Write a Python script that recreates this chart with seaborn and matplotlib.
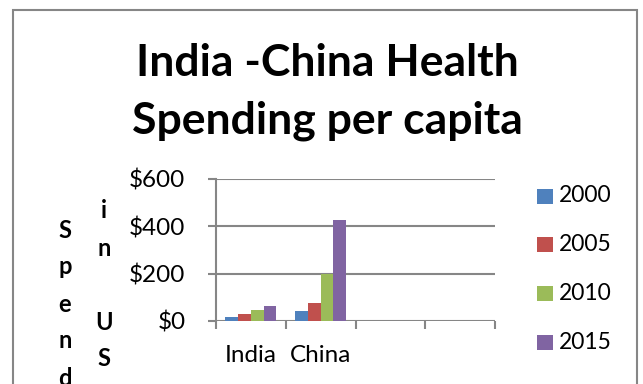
import matplotlib
matplotlib.use("Agg")
import matplotlib.pyplot as plt
import seaborn as sns
import pandas as pd
from matplotlib.patches import Rectangle

countries = ["India", "China"]
years = ["2000", "2005", "2010", "2015"]
india_values = [18, 28, 45, 63]
china_values = [42, 75, 200, 425]
y_ticks = [0, 200, 400, 600]
y_tick_labels = ["$0", "$200", "$400", "$600"]
colors = ["#4F81BD", "#C0504D", "#9BBB59", "#8064A2"]

rows = []
for y, v in zip(years, india_values):
    rows.append({"country": "India", "year": y, "value": v})
for y, v in zip(years, china_values):
    rows.append({"country": "China", "year": y, "value": v})
df = pd.DataFrame(rows)

sns.set_theme(style="white")
plt.rcParams["font.family"] = ["Lato", "DejaVu Sans"]

W, H = 643, 384
fig = plt.figure(figsize=(W / 100, H / 100), dpi=100)
ax = fig.add_axes([216 / W, 1 - 321 / H, (495 - 216) / W, (321 - 179) / H])

sns.barplot(data=df, x="country", y="value", hue="year", order=countries,
            hue_order=years, palette=colors, width=0.73, ax=ax,
            edgecolor="none", saturation=1)

ax.set_xlim(-0.5, 3.5)
ax.set_ylim(0, 600)
grid_c = "#868686"
ax.set_yticks(y_ticks)
ax.set_yticklabels(y_tick_labels)
for yv in y_ticks:
    ax.axhline(yv, color=grid_c, lw=1.5, zorder=0.5)
ax.set_xticks([0, 1])
ax.set_xticklabels(countries)
ax.set_xticks([-0.5, 0.5, 1.5, 2.5, 3.5], minor=True)
ax.tick_params(axis="x", which="major", length=0, pad=17, labelsize=17.5, colors="black")
ax.tick_params(axis="x", which="minor", length=6, width=1.5, color=grid_c, direction="out", bottom=True)
ax.tick_params(axis="y", length=6, width=1.5, color=grid_c, direction="out", left=True,
               pad=16, labelsize=17.5, labelcolor="black")
for s in ["top", "right", "bottom"]:
    ax.spines[s].set_visible(False)
ax.spines["left"].set_color(grid_c)
ax.spines["left"].set_linewidth(1.5)
ax.set_xlabel("")
ax.set_ylabel("")
ax.legend_.remove()

# legend
for i, (yr, c) in enumerate(zip(years, colors)):
    yc = 196 + i * 48.7
    fig.patches.append(Rectangle((537 / W, 1 - (yc + 7.5) / H), 16 / W, 15 / H,
                                 transform=fig.transFigure, facecolor=c, edgecolor="none"))
    fig.text(559 / W, 1 - yc / H, yr, ha="left", va="center", fontsize=16.5, color="black")

# title
fig.text(327 / W, 1 - 63 / H, "India -China Health", ha="center", va="center",
         fontsize=32, fontweight="bold", color="black")
fig.text(327 / W, 1 - 121 / H, "Spending per capita", ha="center", va="center",
         fontsize=32, fontweight="bold", color="black")

# stacked y label
col1 = ["S", "p", "e", "n", "d"]
col2 = ["i", "n", " ", "U", "S"]
for i, ch in enumerate(col1):
    fig.text(65 / W, 1 - (230 + i * 37) / H, ch, ha="center", va="center",
             fontsize=17, fontweight="bold", color="black")
for i, ch in enumerate(col2):
    fig.text(104 / W, 1 - (211 + i * 37) / H, ch, ha="center", va="center",
             fontsize=17, fontweight="bold", color="black")

# outer frame
fig.patches.append(Rectangle((13 / W, -0.1), (637 - 13) / W, 1 - 10 / H + 0.1,
                             transform=fig.transFigure, facecolor="none",
                             edgecolor=grid_c, lw=1.5))

fig.savefig("out.png", dpi=100)
